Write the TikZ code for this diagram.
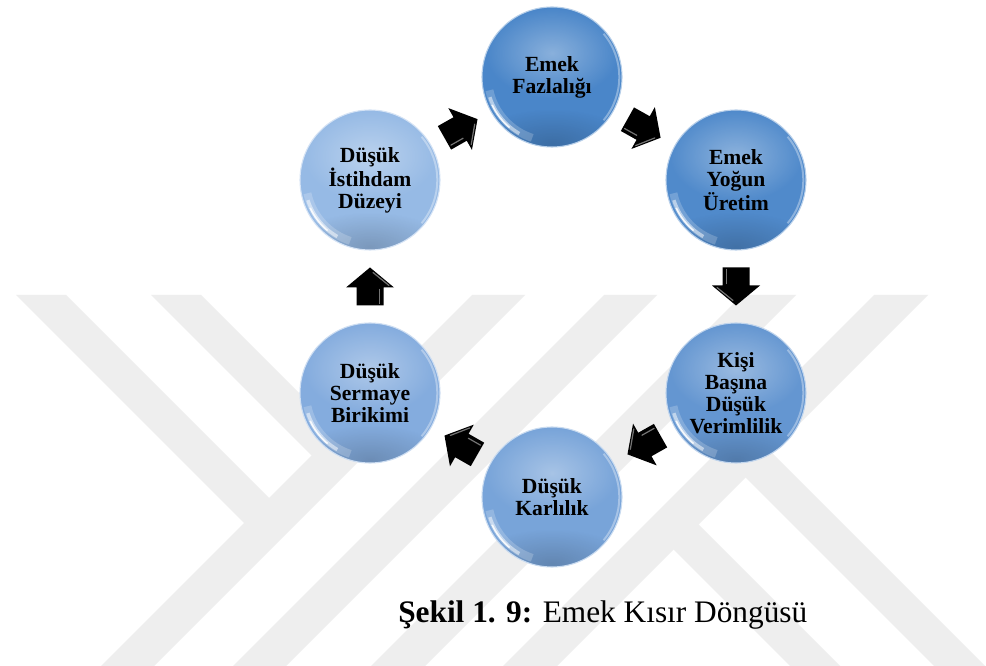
\documentclass[tikz,border=0pt]{standalone}
\usepackage{fontspec}
\setmainfont{Liberation Serif}
\usetikzlibrary{calc,fadings}
\tikzfading[name=softglow, inner color=transparent!0, outer color=transparent!100]
\definecolor{wm}{RGB}{238,238,238}
\definecolor{cfaz}{RGB}{74,134,201}
\definecolor{cyog}{RGB}{80,138,203}
\definecolor{cver}{RGB}{100,150,209}
\definecolor{ckar}{RGB}{120,164,217}
\definecolor{cser}{RGB}{132,172,222}
\definecolor{cist}{RGB}{150,186,229}
\tikzset{
  wmband/.style={fill=wm},
  ball/.style={circle, minimum size=105pt, inner sep=0pt, align=center,
    font=\fontsize{16.2pt}{16.5pt}\selectfont\bfseries,
    fill=#1, draw=#1!40!white, line width=0.8pt,
    path picture={
      \coordinate (pc) at (path picture bounding box.center);
      \fill[white, opacity=0.35, path fading=softglow] ($(pc)+(0pt,18pt)$) ellipse [x radius=50pt, y radius=34pt];
      \fill[black, opacity=0.18, path fading=softglow] ($(pc)+(0pt,-50pt)$) ellipse [x radius=60pt, y radius=26pt];
      \draw[white, opacity=0.2, line width=6pt] ($(pc)+(192:48pt)$) arc[start angle=192, end angle=252, radius=48pt];
      \draw[white, opacity=0.5, line width=2.6pt] ($(pc)+(198:49pt)$) arc[start angle=198, end angle=240, radius=49pt];
      \draw[white, opacity=0.85, line width=1.2pt] ($(pc)+(205:49.5pt)$) arc[start angle=205, end angle=230, radius=49.5pt];
      \draw[white, opacity=0.35, line width=1.5pt] ($(pc)+(-40:50.5pt)$) arc[start angle=-40, end angle=40, radius=50.5pt];
    }},
  arrowbody/.style={fill=black},
  arrowshine/.style={draw=gray!70, line width=0.9pt, opacity=0.7, line cap=round},
  caption/.style={anchor=base west, inner sep=0pt, font=\fontsize{23.5pt}{28pt}\selectfont}
}
\newcommand\blockarr[2]{%
  \path let \p1=(#1.center), \p2=(#2.center), \n1={atan2(\y2-\y1,\x2-\x1)} in \pgfextra{\xdef\arrang{\n1}};
  \begin{scope}[shift={($(#1.center)!0.5!(#2.center)$)}, rotate=\arrang]
    \fill[arrowbody] (-19,-13.5) -- (-1,-13.5) -- (-1,-24) -- (19,0) -- (-1,24) -- (-1,13.5) -- (-19,13.5) -- cycle;
    \draw[arrowshine] (-17,9.5) -- (-3,9.5);
    \draw[arrowshine] (1,19) -- (14,3);
  \end{scope}}
\begin{document}
\begin{tikzpicture}[x=0.75pt, y=-0.75pt]
\useasboundingbox (0,0) rectangle (986,666);
\fill[white] (0,0) rectangle (986,666);
% watermark
\begin{scope}
\clip (0,0) rectangle (986,666);
\fill[wmband] (472,295) -- (525,295) -- (154,666) -- (101,666) -- cycle;
\fill[wmband] (604,295) -- (657,295) -- (286,666) -- (233,666) -- cycle;
\fill[wmband] (742,295) -- (796,295) -- (425,666) -- (371,666) -- cycle;
\fill[wmband] (874,295) -- (928,295) -- (557,666) -- (503,666) -- cycle;
\fill[wmband] (16,295) -- (66,295) -- (282.5,511.5) -- (257.5,536.5) -- cycle;
\fill[wmband] (151,295) -- (201,295) -- (350,444) -- (325,469) -- cycle;
\fill[wmband] (660,536) -- (685,511) -- (840,666) -- (790,666) -- cycle;
\fill[wmband] (732,464) -- (757.5,438.5) -- (985,666) -- (934,666) -- cycle;
\end{scope}
% circles
\node[ball=cfaz] (faz) at (552,77) {Emek\\Fazlalığı};
\node[ball=cyog] (yog) at (736,180) {Emek\\Yoğun\\Üretim};
\node[ball=cver] (ver) at (736,393) {Kişi\\Başına\\Düşük\\Verimlilik};
\node[ball=ckar] (kar) at (552,497) {Düşük\\Karlılık};
\node[ball=cser] (ser) at (370,393) {Düşük\\Sermaye\\Birikimi};
\node[ball=cist] (ist) at (370,180) {Düşük\\İstihdam\\Düzeyi};
% arrows
\blockarr{ist}{faz}
\blockarr{faz}{yog}
\blockarr{yog}{ver}
\blockarr{ver}{kar}
\blockarr{kar}{ser}
\blockarr{ser}{ist}
% caption
\node[caption] (cap) at (398,622) {\textbf{Şekil 1. 9:} Emek Kısır Döngüsü};
\end{tikzpicture}
\end{document}
